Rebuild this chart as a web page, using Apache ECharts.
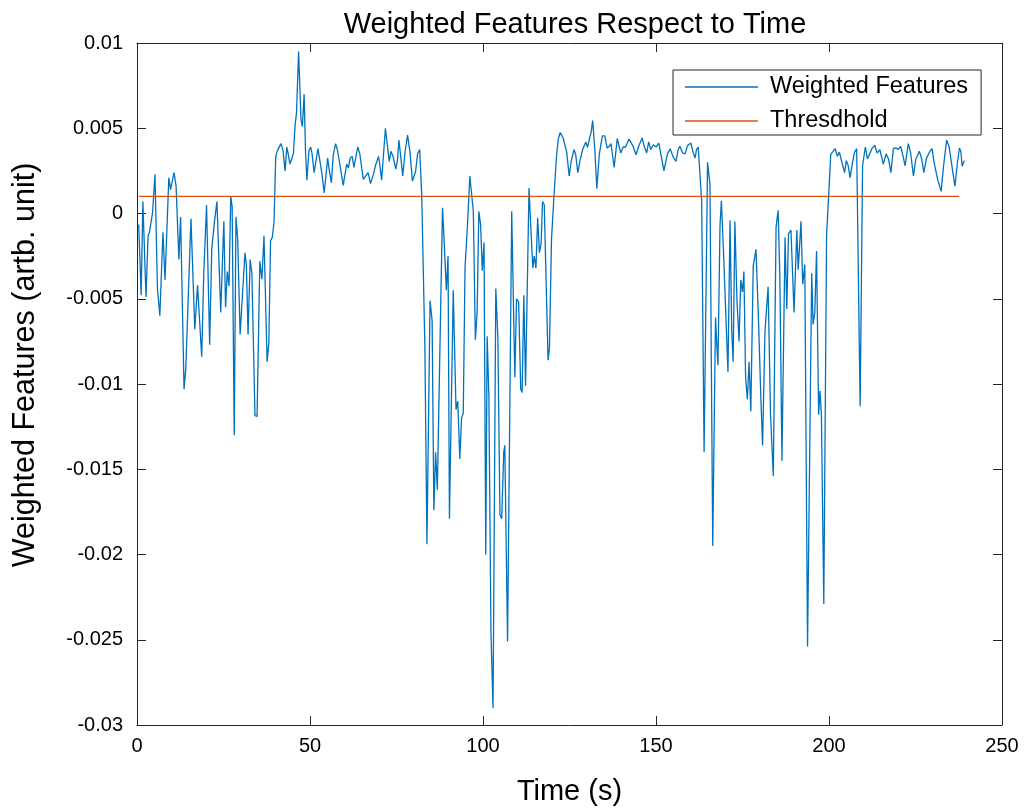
<!DOCTYPE html>
<html>
<head>
<meta charset="utf-8">
<title>Weighted Features Respect to Time</title>
<script src="https://cdn.jsdelivr.net/npm/echarts@6/dist/echarts.min.js"></script>
<style>
  html, body { margin: 0; padding: 0; background: #fff; }
  #chart { width: 1027px; height: 811px; }
</style>
</head>
<body>
<div id="chart"></div>
<script>
// time stamps (s) of the weighted-feature curve
const timeSec = [
  0.5,1.2,1.7,2.0,2.6,3.2,3.6,4.5,5.2,5.9,6.6,7.5,8.1,9.2,9.7,10.0,10.7,11.3,12.1,12.6,
  13.6,14.1,15.6,16.7,17.5,18.7,19.3,20.1,21.0,21.6,22.4,23.1,24.2,25.1,25.6,26.1,26.6,27.1,27.5,28.1,
  28.6,29.1,29.8,30.2,31.2,31.6,32.1,32.7,33.2,34.1,34.7,35.5,36.1,36.7,37.6,38.1,38.6,39.1,39.6,40.1,
  40.6,41.6,42.2,42.8,43.3,43.7,44.2,44.7,45.2,45.7,46.1,46.7,47.4,47.8,48.3,48.7,49.1,49.7,50.2,50.6,
  51.2,51.6,52.3,52.7,53.4,54.1,55.1,55.6,56.2,56.7,57.4,57.9,58.7,59.6,60.6,61.1,61.6,62.2,62.7,63.8,
  64.4,65.4,65.9,66.8,67.5,68.3,68.9,69.8,70.3,70.7,71.2,71.8,72.3,72.9,73.4,74.0,74.8,75.3,75.7,76.3,
  76.8,77.5,78.2,78.9,79.6,80.0,80.5,81.1,81.7,82.3,83.2,83.8,84.7,85.3,85.8,86.3,86.8,87.2,88.3,88.9,
  89.4,89.9,90.3,91.4,92.2,92.7,93.3,93.8,94.3,94.8,95.4,95.8,96.2,96.7,97.2,97.8,98.3,98.8,99.3,99.8,
  100.3,100.8,101.2,101.7,102.3,102.9,103.7,104.3,104.9,105.4,106.0,106.3,107.1,108.3,109.2,109.7,110.3,110.9,111.3,111.8,
  112.3,113.3,113.8,114.4,114.8,115.3,115.8,116.3,116.8,117.2,117.7,118.8,119.2,119.8,120.5,121.3,121.8,122.3,122.8,123.2,
  124.2,124.9,125.5,126.3,126.8,127.4,128.1,128.8,129.7,130.2,130.9,131.2,131.7,132.3,132.9,133.6,134.5,135.2,135.9,136.5,
  137.0,137.9,138.8,139.8,140.5,141.2,142.2,142.7,143.4,144.2,145.0,146.0,146.6,147.3,147.9,148.5,149.2,150.0,150.8,151.6,
  152.3,153.3,154.1,155.0,155.8,156.4,156.9,157.7,158.4,159.1,160.1,160.7,161.3,161.7,162.2,163.2,163.9,164.5,164.9,165.6,
  166.4,167.2,167.5,167.9,168.5,168.9,169.5,170.0,170.8,171.4,171.9,172.3,172.8,173.4,174.0,174.5,175.0,175.4,175.9,176.4,
  176.9,177.4,178.1,178.9,179.6,180.3,180.8,181.5,182.0,182.4,183.1,183.9,184.7,185.3,185.8,186.4,187.3,187.8,188.3,189.0,
  189.9,190.7,191.1,191.9,192.4,193.0,193.8,195.0,195.4,195.9,196.4,197.0,197.4,197.8,198.5,199.3,199.9,200.5,200.9,201.8,
  202.4,203.0,203.6,204.0,204.5,205.0,205.5,206.1,206.8,207.4,208.0,209.0,209.7,210.5,211.1,211.6,212.4,213.2,213.9,214.7,
  215.7,216.5,217.2,217.9,218.6,219.3,220.0,220.7,221.3,222.0,222.9,223.6,224.4,225.1,226.1,226.8,227.4,228.2,229.2,229.8,
  230.4,231.4,232.4,233.1,234.0,234.7,235.4,236.4,237.1,237.7,238.1,238.5,239.1
];
// weighted features, in units of 1e-3
const weightedMilli = [
  -0.64,-4.8,0.7,0.7,-4.9,-1.3,-1.1,0.06,2.3,-4.4,-6.0,-1.1,-3.9,2.1,1.4,1.5,2.4,1.6,-2.7,-0.2,
  -10.3,-9.1,-0.3,-6.8,-4.2,-8.4,-3.5,0.5,-7.7,-2.1,-0.45,0.7,-5.8,-0.45,-5.5,-3.4,-4.25,1.0,0.4,-13.0,
  -0.2,-1.5,-7.1,-7.2,-2.3,-3.0,-7.1,-2.7,-3.5,-11.85,-11.9,-2.8,-3.85,-1.3,-8.7,-7.6,-1.6,-1.4,-0.5,3.35,
  3.7,4.1,3.7,2.5,3.9,3.5,2.9,2.9,3.5,5.2,5.9,9.5,5.5,5.1,7.0,3.7,1.95,3.7,3.9,3.5,
  2.4,2.3,3.8,3.8,2.4,1.2,3.25,2.5,1.8,3.4,4.1,3.75,2.8,1.65,2.9,2.67,3.25,3.35,2.7,3.9,
  3.5,2.0,1.93,2.4,1.75,2.28,2.8,3.35,2.67,1.95,2.0,5.0,4.1,3.06,3.65,3.35,2.6,3.16,4.3,3.2,
  2.2,3.65,4.6,3.6,1.9,1.8,2.45,3.5,3.75,1.0,-7.8,-19.4,-5.1,-6.3,-17.4,-14.0,-16.2,-16.2,0.33,-2.2,
  -4.5,-2.5,-17.9,-4.5,-11.5,-11.0,-14.4,-12.0,-11.7,-3.2,-1.1,-1.2,2.2,2.1,0.13,-7.4,-5.8,0.13,-0.64,-3.35,
  -1.7,-20.0,-7.2,-10.7,-24.6,-29.0,-4.4,-7.3,-17.65,-17.9,-14.0,-13.6,-25.1,0.13,-9.6,-5.0,-5.2,-10.3,-10.5,-4.8,
  -10.1,1.5,-0.74,-3.2,-2.5,-3.2,-0.25,-2.3,-1.75,0.7,0.53,-8.6,-7.9,-1.5,1.0,3.5,4.4,4.75,4.56,4.4,
  3.6,2.2,3.06,3.75,3.45,2.4,3.16,3.75,4.2,3.88,4.5,4.7,5.45,3.8,1.46,3.45,4.55,4.55,3.84,3.94,
  4.1,2.7,4.4,3.55,3.9,3.9,4.37,4.3,3.94,3.45,3.94,4.43,3.94,3.55,4.2,3.75,4.03,3.9,4.13,3.26,
  2.5,3.5,3.8,3.3,3.06,3.75,3.94,3.55,3.5,3.98,4.13,3.6,3.26,3.75,3.9,0.7,-14.0,-3.9,3.0,1.7,
  -19.5,-6.1,-7.4,-8.9,-0.7,0.74,-2.2,-2.2,-9.3,-0.4,-6.96,-8.7,-0.47,-5.1,-7.5,-3.9,-4.6,-3.4,-9.6,-10.9,
  -8.7,-11.6,-3.1,-2.1,-6.1,-10.8,-13.6,-6.9,-6.85,-4.3,-11.8,-15.4,-0.8,0.19,-3.74,-14.5,-1.4,-5.6,-1.2,-0.97,
  -5.8,-0.97,-3.3,-0.46,-4.15,-3.0,-25.4,-3.5,-6.5,-5.8,-2.2,-11.8,-10.4,-11.8,-22.9,-1.27,1.05,3.47,3.55,3.8,
  3.36,3.6,3.1,3.2,2.4,3.1,2.85,2.1,3.0,3.6,3.8,-11.3,2.8,3.9,3.2,3.2,3.8,4.0,3.55,3.75,
  2.9,3.5,3.2,2.4,3.8,3.85,3.75,3.94,3.45,2.8,4.1,3.55,2.2,3.2,3.65,3.2,2.4,3.26,3.65,3.8,
  2.96,2.0,1.3,2.77,4.3,3.94,2.96,1.6,2.96,3.84,3.65,2.77,3.1
];
// threshold line: start / end time and level
const thresholdTime = [0.5, 237.6];
const thresholdLevel = [0.001, 0.001];

const seriesNames = ["Weighted Features", "Thresdhold"];
const titleText = "Weighted Features Respect to Time";
const xName = "Time (s)";
const yName = "Weighted Features (artb. unit)";

const weightedData = timeSec.map((t, i) => [t, weightedMilli[i] / 1000]);
const thresholdData = thresholdTime.map((t, i) => [t, thresholdLevel[i]]);

const FONT = "Liberation Sans, Arial, Helvetica, sans-serif";
const AX = "#262626";

const chart = echarts.init(document.getElementById("chart"), null, { renderer: "canvas" });

const tickOpts = { show: true, inside: true, length: 9, lineStyle: { color: AX, width: 1 } };
const lineOpts = { show: true, onZero: false, lineStyle: { color: AX, width: 1 } };

const option = {
  backgroundColor: "#fff",
  animation: false,
  title: {
    text: titleText,
    left: 570,
    top: 5,
    textAlign: "center",
    textStyle: { fontFamily: FONT, fontSize: 29, fontWeight: "normal", color: "#000" }
  },
  legend: {
    orient: "vertical",
    left: 673,
    top: 70,
    backgroundColor: "#fff",
    borderColor: AX,
    borderWidth: 1,
    padding: [5, 13, 2, 12],
    itemGap: 10,
    itemWidth: 73,
    itemHeight: 1.4,
    icon: "rect",
    textStyle: { fontFamily: FONT, fontSize: 23.5, color: "#000", padding: [0, 0, 0, 7] },
    data: seriesNames
  },
  grid: { left: 137, right: 25, top: 43, bottom: 84 },
  xAxis: [
    {
      type: "value", min: 0, max: 250, interval: 50, position: "bottom",
      name: xName, nameLocation: "middle", nameGap: 52,
      nameTextStyle: { fontFamily: FONT, fontSize: 29, color: "#000" },
      axisLine: lineOpts,
      axisTick: tickOpts,
      axisLabel: { fontFamily: FONT, fontSize: 20, color: "#000", margin: 11 },
      splitLine: { show: false }
    },
    {
      type: "value", min: 0, max: 250, interval: 50, position: "top",
      axisLine: lineOpts,
      axisTick: tickOpts, axisLabel: { show: false }, splitLine: { show: false }
    }
  ],
  yAxis: [
    {
      type: "value", min: -0.03, max: 0.01, interval: 0.005, position: "left",
      name: yName, nameLocation: "middle", nameGap: 96,
      nameTextStyle: { fontFamily: FONT, fontSize: 30.5, color: "#000", padding: [0, 0, 0, 38] },
      axisLine: lineOpts,
      axisTick: tickOpts,
      axisLabel: {
        fontFamily: FONT, fontSize: 20, color: "#000", margin: 14,
        formatter: v => String(parseFloat(v.toFixed(3)))
      },
      splitLine: { show: false }
    },
    {
      type: "value", min: -0.03, max: 0.01, interval: 0.005, position: "right",
      axisLine: lineOpts,
      axisTick: tickOpts, axisLabel: { show: false }, splitLine: { show: false }
    }
  ],
  series: [
    {
      name: seriesNames[0], type: "line", data: weightedData,
      symbol: "none", color: "#0072BD",
      lineStyle: { width: 1.3, color: "#0072BD" }
    },
    {
      name: seriesNames[1], type: "line", data: thresholdData,
      symbol: "none", color: "#D95319",
      lineStyle: { width: 1.3, color: "#D95319" }
    }
  ]
};

chart.setOption(option);
</script>
</body>
</html>
